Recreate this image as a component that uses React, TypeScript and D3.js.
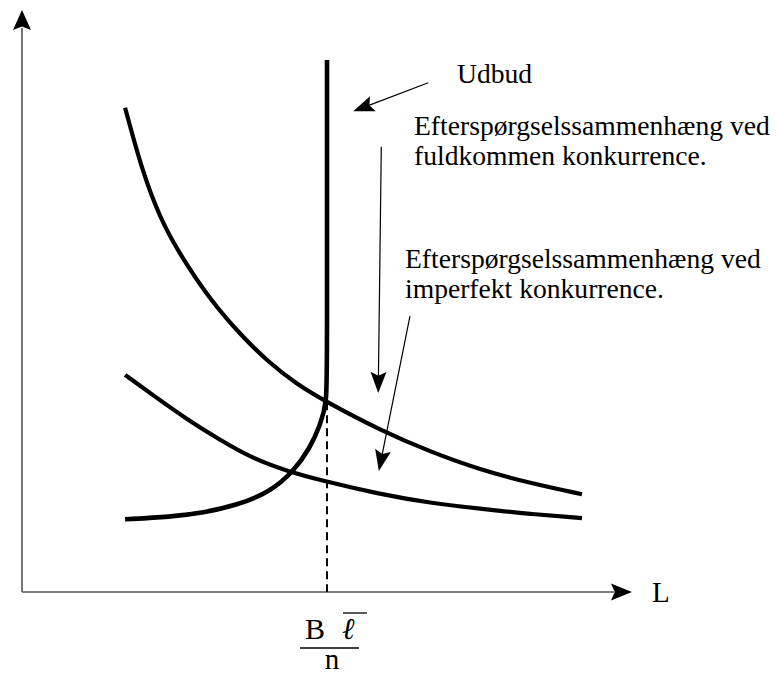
import React, { useEffect, useRef } from "react";
import * as d3 from "d3";

// Model units: L (labour) along x, real wage along y, both 0..100
const perfectDemand: [number, number][] = [
  [16.9, 83.2], [19.8, 72.0], [22.6, 64.4], [25.4, 58.8], [30.8, 50.2],
  [36.2, 43.8], [40.1, 39.8], [45.0, 35.7], [50.0, 32.6], [58.7, 27.8],
  [66.9, 24.1], [75.1, 21.0], [83.3, 18.7], [91.8, 16.8],
];

const imperfectDemand: [number, number][] = [
  [16.9, 37.3], [21.5, 33.8], [27.0, 29.7], [32.5, 26.1], [37.9, 22.9],
  [43.4, 20.8], [48.9, 19.2], [58.7, 16.8], [66.9, 15.3], [75.1, 14.3],
  [83.3, 13.4], [91.8, 12.7],
];

// supply: vertical at B*l/n, bending down towards the left at low wages
const supply: [number, number][] = [
  [50.0, 91.4], [50.0, 40.0], [50.0, 32.6], [48.9, 28.7], [47.2, 24.7],
  [44.5, 20.7], [40.7, 17.2], [35.2, 14.9], [29.7, 13.6], [24.3, 12.9],
  [16.9, 12.5],
];

const equilibrium: [number, number] = [50.0, 32.6];

// pointer arrows: [fromL, fromW, toL, toW]
const pointers: [number, number, number, number][] = [
  [66.6, 87.5, 54.3, 82.6],
  [58.9, 76.5, 58.4, 34.2],
  [63.6, 47.4, 58.5, 20.8],
];

const supplyLabel = "Udbud";
const perfectLabel = ["Efterspørgselssammenhæng ved", "fuldkommen konkurrence."];
const imperfectLabel = ["Efterspørgselssammenhæng ved", "imperfekt konkurrence."];
const xAxisLabel = "L";

const App = () => {
  const chartRef = useRef<HTMLDivElement>(null);

  useEffect(() => {
    drawChart();
  }, []);

  const arrowHead = (x1: number, y1: number, x2: number, y2: number, len: number, half: number) => {
    const a = Math.atan2(y2 - y1, x2 - x1);
    const cos = Math.cos(a);
    const sin = Math.sin(a);
    const bx = x2 - len * cos;
    const by = y2 - len * sin;
    const nx = x2 - len * 0.82 * cos;
    const ny = y2 - len * 0.82 * sin;
    return `M${x2},${y2}L${bx - sin * half},${by + cos * half}L${nx},${ny}L${bx + sin * half},${by - cos * half}Z`;
  };

  const drawChart = () => {
    const width = 776;
    const height = 675;
    const font = "'Liberation Serif', 'Times New Roman', serif";

    d3.select(chartRef.current).select("svg").remove();

    const svg = d3
      .select(chartRef.current)
      .append("svg")
      .attr("width", width)
      .attr("height", height)
      .style("position", "absolute")
      .style("left", "0px")
      .style("top", "0px")
      .style("background", "#fff");

    const x = d3.scaleLinear().domain([0, 100]).range([22, 632]);
    const y = d3.scaleLinear().domain([0, 100]).range([592, 10]);

    // Axes
    const axisColor = "#555";
    svg.append("line")
      .attr("x1", x(0)).attr("y1", y(0))
      .attr("x2", x(0)).attr("y2", y(100) + 18)
      .attr("stroke", axisColor).attr("stroke-width", 1.6);
    svg.append("path")
      .attr("d", arrowHead(x(0), y(0), x(0), y(100), 20, 9))
      .attr("fill", "#000");

    svg.append("line")
      .attr("x1", x(0)).attr("y1", y(0))
      .attr("x2", x(100) - 18).attr("y2", y(0))
      .attr("stroke", axisColor).attr("stroke-width", 1.6);
    svg.append("path")
      .attr("d", arrowHead(x(0), y(0), x(100), y(0), 21, 8.5))
      .attr("fill", "#000");

    svg.append("text")
      .attr("x", 652).attr("y", 602)
      .style("font-family", font).style("font-size", "29px")
      .text(xAxisLabel);

    // Dashed drop line
    svg.append("line")
      .attr("x1", x(equilibrium[0])).attr("y1", y(equilibrium[1]))
      .attr("x2", x(equilibrium[0])).attr("y2", y(0))
      .attr("stroke", "#000").attr("stroke-width", 2)
      .attr("stroke-dasharray", "8,5");

    // Curves
    const line = d3.line<[number, number]>()
      .x((d) => x(d[0])).y((d) => y(d[1]))
      .curve(d3.curveBasis);

    svg.append("path").attr("d", line(perfectDemand))
      .attr("fill", "none").attr("stroke", "#000").attr("stroke-width", 4.2);
    svg.append("path").attr("d", line(imperfectDemand))
      .attr("fill", "none").attr("stroke", "#000").attr("stroke-width", 4.2);
    svg.append("path").attr("d", line(supply))
      .attr("fill", "none").attr("stroke", "#000").attr("stroke-width", 4.6);

    // Pointer arrows
    pointers.forEach(([l0, w0, l1, w1]) => {
      const x1 = x(l0), y1 = y(w0), x2 = x(l1), y2 = y(w1);
      const a = Math.atan2(y2 - y1, x2 - x1);
      svg.append("line")
        .attr("x1", x1).attr("y1", y1)
        .attr("x2", x2 - 16 * Math.cos(a)).attr("y2", y2 - 16 * Math.sin(a))
        .attr("stroke", "#000").attr("stroke-width", 1.2);
      svg.append("path")
        .attr("d", arrowHead(x1, y1, x2, y2, 21, 8))
        .attr("fill", "#000");
    });

    // Labels
    const addText = (txt: string, tx: number, ty: number) =>
      svg.append("text")
        .attr("x", tx).attr("y", ty)
        .style("font-family", font).style("font-size", "27.6px")
        .text(txt);

    addText(supplyLabel, 457, 83);
    perfectLabel.forEach((t, i) => addText(t, 414, 135 + i * 30));
    imperfectLabel.forEach((t, i) => addText(t, 405, 268 + i * 30));

    // B l-bar / n under the axis
    const fx = x(equilibrium[0]);
    svg.append("text")
      .attr("x", fx - 22).attr("y", 639)
      .style("font-family", font).style("font-size", "30px")
      .text("B");
    svg.append("text")
      .attr("x", fx + 15).attr("y", 639)
      .style("font-family", font).style("font-size", "30px")
      .style("font-style", "italic")
      .text("ℓ");
    svg.append("line")
      .attr("x1", fx + 16).attr("y1", 613)
      .attr("x2", fx + 40).attr("y2", 613)
      .attr("stroke", "#000").attr("stroke-width", 1.3);
    svg.append("line")
      .attr("x1", fx - 27).attr("y1", 648)
      .attr("x2", fx + 32).attr("y2", 648)
      .attr("stroke", "#000").attr("stroke-width", 1.3);
    svg.append("text")
      .attr("x", fx + 5).attr("y", 669)
      .attr("text-anchor", "middle")
      .style("font-family", font).style("font-size", "29px")
      .text("n");
  };

  return <div ref={chartRef}></div>;
};

export default App;
